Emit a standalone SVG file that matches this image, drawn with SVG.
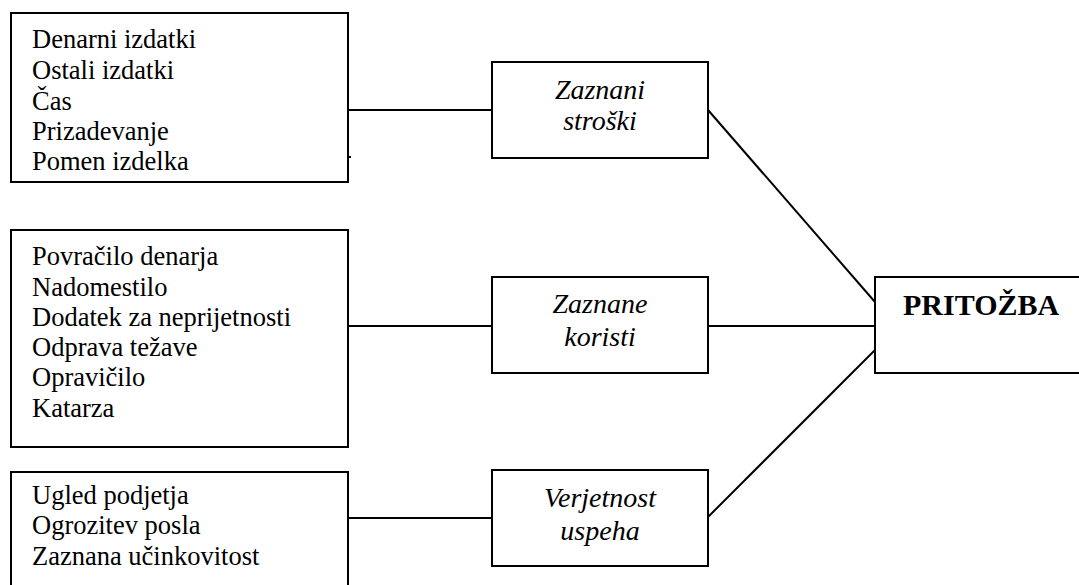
<svg xmlns="http://www.w3.org/2000/svg" width="1079" height="585" viewBox="0 0 1079 585">
<style>
.box{fill:#fff;stroke:#000;stroke-width:2}
.ln{stroke:#000;stroke-width:2;fill:none}
text{font-family:'Liberation Serif','Times New Roman',Times,'DejaVu Serif',serif;fill:#000}
.t{font-size:26.5px}
.i{font-size:28px;font-style:italic;text-anchor:middle}
.b{font-size:30px;font-weight:bold}
</style>
<rect width="1079" height="585" fill="#fff"/>
<g id="connectors">
<line class="ln" x1="348" y1="110" x2="492" y2="110"/>
<line class="ln" x1="348" y1="157" x2="351" y2="157"/>
<line class="ln" x1="348" y1="326" x2="492" y2="326"/>
<line class="ln" x1="348" y1="518" x2="492" y2="518"/>
<line class="ln" x1="708" y1="326" x2="875" y2="326"/>
<line class="ln" x1="708" y1="110" x2="875" y2="302"/>
<line class="ln" x1="708" y1="517" x2="875" y2="350"/>
</g>
<g id="costs-list">
<rect class="box" x="11" y="13" width="337" height="169"/>
<text class="t" x="32" y="48">Denarni izdatki</text>
<text class="t" x="32" y="79">Ostali izdatki</text>
<text class="t" x="32" y="110">Čas</text>
<text class="t" x="32" y="140">Prizadevanje</text>
<text class="t" x="32" y="170">Pomen izdelka</text>
</g>
<g id="benefits-list">
<rect class="box" x="11" y="230" width="337" height="217"/>
<text class="t" x="32" y="265">Povračilo denarja</text>
<text class="t" x="32" y="296">Nadomestilo</text>
<text class="t" x="32" y="326">Dodatek za neprijetnosti</text>
<text class="t" x="32" y="356">Odprava težave</text>
<text class="t" x="32" y="386">Opravičilo</text>
<text class="t" x="32" y="417">Katarza</text>
</g>
<g id="success-list">
<rect class="box" x="11" y="472" width="337" height="140"/>
<text class="t" x="32" y="504">Ugled podjetja</text>
<text class="t" x="32" y="534">Ogrozitev posla</text>
<text class="t" x="32" y="565">Zaznana učinkovitost</text>
</g>
<g id="zaznani-stroski">
<rect class="box" x="492" y="62" width="216" height="96"/>
<text class="i" x="600" y="99">Zaznani</text>
<text class="i" x="600" y="130">stroški</text>
</g>
<g id="zaznane-koristi">
<rect class="box" x="492" y="277" width="216" height="96"/>
<text class="i" x="600" y="313">Zaznane</text>
<text class="i" x="600" y="346">koristi</text>
</g>
<g id="verjetnost-uspeha">
<rect class="box" x="492" y="470" width="216" height="96"/>
<text class="i" x="600" y="507">Verjetnost</text>
<text class="i" x="600" y="540">uspeha</text>
</g>
<g id="pritozba">
<rect class="box" x="875" y="277" width="220" height="96"/>
<text class="b" x="903" y="315">PRITOŽBA</text>
</g>
</svg>
